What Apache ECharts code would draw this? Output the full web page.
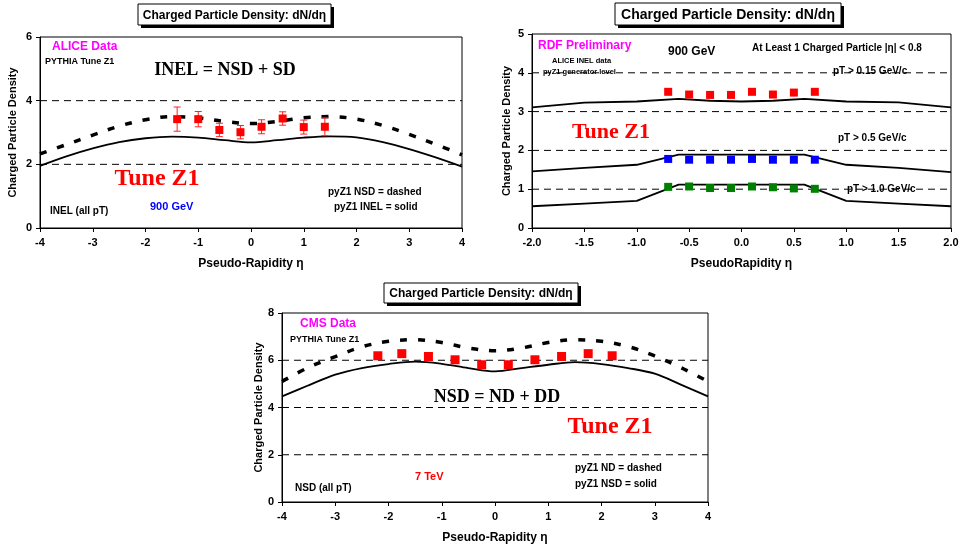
<!DOCTYPE html>
<html><head><meta charset="utf-8">
<script src="https://cdn.jsdelivr.net/npm/echarts@6/dist/echarts.min.js"></script>
<style>html,body{margin:0;padding:0;background:#fff}#c{width:967px;height:550px}</style>
</head><body><div id="c"></div>
<script>
// ---------- Panel 1: ALICE 900 GeV ----------
const etaCurve = [-4,-3.5,-3,-2.5,-2,-1.5,-1,-0.5,0,0.5,1,1.5,2,2.5,3,3.5,4];
const aliceNSD  = [2.33,2.62,2.92,3.20,3.40,3.50,3.46,3.35,3.28,3.35,3.46,3.50,3.42,3.22,2.94,2.63,2.30];
const aliceINEL = [1.95,2.25,2.50,2.70,2.82,2.87,2.84,2.76,2.69,2.76,2.84,2.88,2.85,2.70,2.48,2.22,1.93];
const aliceEta = [-1.4,-1.0,-0.6,-0.2,0.2,0.6,1.0,1.4];
const aliceVal = [3.42,3.42,3.08,3.01,3.18,3.44,3.17,3.18];
const aliceErr = [0.38,0.24,0.21,0.21,0.22,0.21,0.22,0.28];

// ---------- Panel 2: RDF preliminary, pT cuts ----------
const rdfEta  = [-0.7,-0.5,-0.3,-0.1,0.1,0.3,0.5,0.7];
const rdf015  = [3.51,3.44,3.43,3.43,3.51,3.44,3.49,3.51];
const rdf05   = [1.78,1.76,1.76,1.76,1.78,1.76,1.76,1.76];
const rdf10   = [1.06,1.07,1.03,1.03,1.07,1.05,1.02,1.01];
const z1EtaA  = [-2,-1.5,-1,-0.6,-0.3,0,0.3,0.6,1,1.5,2];
const z1pt015 = [3.11,3.23,3.26,3.33,3.28,3.26,3.28,3.33,3.26,3.24,3.11];
const z1EtaB  = [-2,-1.5,-1,-0.6,0.6,1,1.5,2];
const z1pt05  = [1.46,1.55,1.63,1.89,1.89,1.63,1.55,1.44];
const z1pt10  = [0.56,0.63,0.70,1.12,1.12,0.70,0.63,0.56];

// ---------- Panel 3: CMS 7 TeV ----------
const cmsND  = [5.10,5.70,6.15,6.57,6.80,6.87,6.75,6.52,6.40,6.52,6.75,6.87,6.80,6.58,6.18,5.68,5.10];
const cmsNSD = [4.47,4.94,5.39,5.67,5.84,5.94,5.85,5.67,5.53,5.67,5.81,5.92,5.84,5.67,5.43,4.96,4.47];
const cmsEta = [-2.2,-1.75,-1.25,-0.75,-0.25,0.25,0.75,1.25,1.75,2.2];
const cmsVal = [6.19,6.28,6.16,6.02,5.81,5.81,6.02,6.16,6.28,6.19];

const xTicks1 = [-4,4,1];
const yTicks1 = [0,6,2];
const xTicks2 = [-2,2,0.5];
const yTicks2 = [0,5,1];
const xTicks3 = [-4,4,1];
const yTicks3 = [0,8,2];
const gridVals1 = [2,4];
const gridVals2 = [1,2,3,4];
const gridVals3 = [2,4,6];

const SANS = '"Liberation Sans", Arial, sans-serif';
const SERIF = '"Liberation Serif", "Times New Roman", serif';
const zip = (a,b) => a.map((v,i)=>[v,b[i]]);

function xAxis(gi, t, name, dec){
  return {type:'value', gridIndex:gi, min:t[0], max:t[1], interval:t[2],
    name:name, nameLocation:'middle', nameGap:30,
    nameTextStyle:{fontFamily:SANS, fontWeight:'bold', fontSize:12, color:'#000'},
    axisLine:{onZero:false, lineStyle:{color:'#000', width:1}},
    axisTick:{show:true, length:4, lineStyle:{color:'#000'}},
    axisLabel:{fontFamily:SANS, fontWeight:'bold', fontSize:11, color:'#000', margin:9,
      formatter: v => dec ? v.toFixed(1) : String(v)},
    splitLine:{show:false}};
}
function yAxis(gi, t, gap){
  return {type:'value', gridIndex:gi, min:t[0], max:t[1], interval:t[2],
    name:'Charged Particle Density', nameLocation:'middle', nameGap:gap,
    nameTextStyle:{fontFamily:SANS, fontWeight:'bold', fontSize:11, color:'#000'},
    axisLine:{show:true, onZero:false, lineStyle:{color:'#000', width:1}},
    axisTick:{show:true, length:4, lineStyle:{color:'#000'}},
    axisLabel:{fontFamily:SANS, fontWeight:'bold', fontSize:11, color:'#000', margin:8},
    splitLine:{show:false}};
}

function dashLine(xi, xs, ys){
  return {type:'line', xAxisIndex:xi, yAxisIndex:xi, data:zip(xs,ys), smooth:0.35, symbol:'none',
    lineStyle:{color:'#000', width:3.5, type:[7,11]}, z:3, silent:true};
}
function solidLine(xi, xs, ys, smooth){
  return {type:'line', xAxisIndex:xi, yAxisIndex:xi, data:zip(xs,ys), smooth:smooth?0.35:false, symbol:'none',
    lineStyle:{color:'#000', width:1.8}, z:3, silent:true};
}
function pts(xi, xs, ys, color, size){
  return {type:'scatter', xAxisIndex:xi, yAxisIndex:xi, data:zip(xs,ys), symbol:'rect', symbolSize:size,
    itemStyle:{color:color, opacity:1}, z:5, silent:true};
}

// dashed horizontal gridlines at the interior tick values
function gridLines(xi, ticks, tmin, tmax){
  return {type:'custom', xAxisIndex:xi, yAxisIndex:xi, data:ticks.map(v=>[v]), silent:true, z:1,
    renderItem:(params, api)=>{
      const y = api.value(0);
      const p1 = api.coord([tmin, y]), p2 = api.coord([tmax, y]);
      return {type:'line', shape:{x1:p1[0], y1:p1[1], x2:p2[0], y2:p2[1]},
        style:{stroke:'#000', lineWidth:1, lineDash:[7,5]}};
    }};
}

const errSeries = {type:'custom', xAxisIndex:0, yAxisIndex:0, silent:true, z:4,
  data: aliceEta.map((x,i)=>[x, aliceVal[i], aliceErr[i]]),
  renderItem:(params, api)=>{
    const x = api.value(0), y = api.value(1), e = api.value(2);
    const hi = api.coord([x, y+e]), lo = api.coord([x, y-e]);
    const c = '#ff2020', w = 3.5;
    return {type:'group', children:[
      {type:'line', shape:{x1:hi[0], y1:hi[1], x2:lo[0], y2:lo[1]}, style:{stroke:c, lineWidth:1}},
      {type:'line', shape:{x1:hi[0]-w, y1:hi[1], x2:hi[0]+w, y2:hi[1]}, style:{stroke:c, lineWidth:1}},
      {type:'line', shape:{x1:lo[0]-w, y1:lo[1], x2:lo[0]+w, y2:lo[1]}, style:{stroke:c, lineWidth:1}}
    ]};
  }};

function titleBox(x, y, w, h, fs){
  return [
    {type:'rect', shape:{x:x+3, y:y+3, width:w, height:h}, style:{fill:'#000'}},
    {type:'rect', shape:{x:x, y:y, width:w, height:h}, style:{fill:'#fff', stroke:'#000', lineWidth:1}},
    {type:'text', x:x+w/2, y:y+h/2+1, style:{text:'Charged Particle Density: dN/dη', fill:'#000',
      font:'bold '+fs+'px '+SANS, textAlign:'center', textVerticalAlign:'middle'}}
  ];
}
function txt(x, y, s, fs, color, serif, align){
  return {type:'text', x:x, y:y, style:{text:s, fill:color||'#000',
    font:'bold '+fs+'px '+(serif?SERIF:SANS), textAlign:align||'left', textVerticalAlign:'middle'}};
}

const chart = echarts.init(document.getElementById('c'), null, {renderer:'canvas'});
chart.setOption({
  backgroundColor:'#fff',
  animation:false,
  grid:[
    {left:40, top:37, width:422, height:191, show:true, borderColor:'#000', borderWidth:1, backgroundColor:'transparent'},
    {left:532, top:34, width:419, height:194, show:true, borderColor:'#000', borderWidth:1, backgroundColor:'transparent'},
    {left:282, top:313, width:426, height:189, show:true, borderColor:'#000', borderWidth:1, backgroundColor:'transparent'}
  ],
  xAxis:[xAxis(0,xTicks1,'Pseudo-Rapidity η',false), xAxis(1,xTicks2,'PseudoRapidity η',true), xAxis(2,xTicks3,'Pseudo-Rapidity η',false)],
  yAxis:[yAxis(0,yTicks1,22), yAxis(1,yTicks2,20), yAxis(2,yTicks3,17)],
  series:[
    gridLines(0,gridVals1,-4,4),
    gridLines(1,gridVals2,-2,2),
    gridLines(2,gridVals3,-4,4),
    dashLine(0, etaCurve, aliceNSD),
    solidLine(0, etaCurve, aliceINEL, true),
    errSeries,
    pts(0, aliceEta, aliceVal, '#ff0000', 8),
    solidLine(1, z1EtaA, z1pt015, false),
    solidLine(1, z1EtaB, z1pt05, false),
    solidLine(1, z1EtaB, z1pt10, false),
    pts(1, rdfEta, rdf015, '#ff0000', 8),
    pts(1, rdfEta, rdf05, '#0000ff', 8),
    pts(1, rdfEta, rdf10, '#008000', 8),
    dashLine(2, etaCurve, cmsND),
    solidLine(2, etaCurve, cmsNSD, true),
    pts(2, cmsEta, cmsVal, '#ff0000', 9)
  ],
  graphic:[
    ...titleBox(138,4,193,21,12),
    ...titleBox(615,3,226,22,14),
    ...titleBox(384,283,194,20,12),
    // panel 1
    txt(52,47,'ALICE Data',12,'#ff00ff'),
    txt(45,62,'PYTHIA Tune Z1',9),
    txt(225,70,'INEL = NSD + SD',18,'#000',true,'center'),
    txt(157,179,'Tune Z1',24,'#ff0000',true,'center'),
    txt(50,211,'INEL (all pT)',10),
    txt(150,207,'900 GeV',11,'#0000ff'),
    txt(328,192,'pyZ1 NSD = dashed',10),
    txt(334,207,'pyZ1 INEL = solid',10),
    // panel 2
    txt(538,46,'RDF Preliminary',12,'#ff00ff'),
    txt(552,61,'ALICE INEL data',7.5),
    txt(543,72,'pyZ1 generator level',7.5),
    txt(668,52,'900 GeV',12),
    txt(752,48,'At Least 1 Charged Particle |η| < 0.8',10),
    txt(833,71,'pT > 0.15 GeV/c',10),
    txt(611,132,'Tune Z1',22,'#ff0000',true,'center'),
    txt(838,138,'pT > 0.5 GeV/c',10),
    txt(847,189,'pT > 1.0 GeV/c',10),
    // panel 3
    txt(300,324,'CMS Data',12,'#ff00ff'),
    txt(290,340,'PYTHIA Tune Z1',9),
    txt(497,397,'NSD = ND + DD',18,'#000',true,'center'),
    txt(610,427,'Tune Z1',24,'#ff0000',true,'center'),
    txt(415,477,'7 TeV',11,'#ff0000'),
    txt(295,488,'NSD (all pT)',10),
    txt(575,468,'pyZ1 ND = dashed',10),
    txt(575,484,'pyZ1 NSD = solid',10)
  ]
});
</script></body></html>
